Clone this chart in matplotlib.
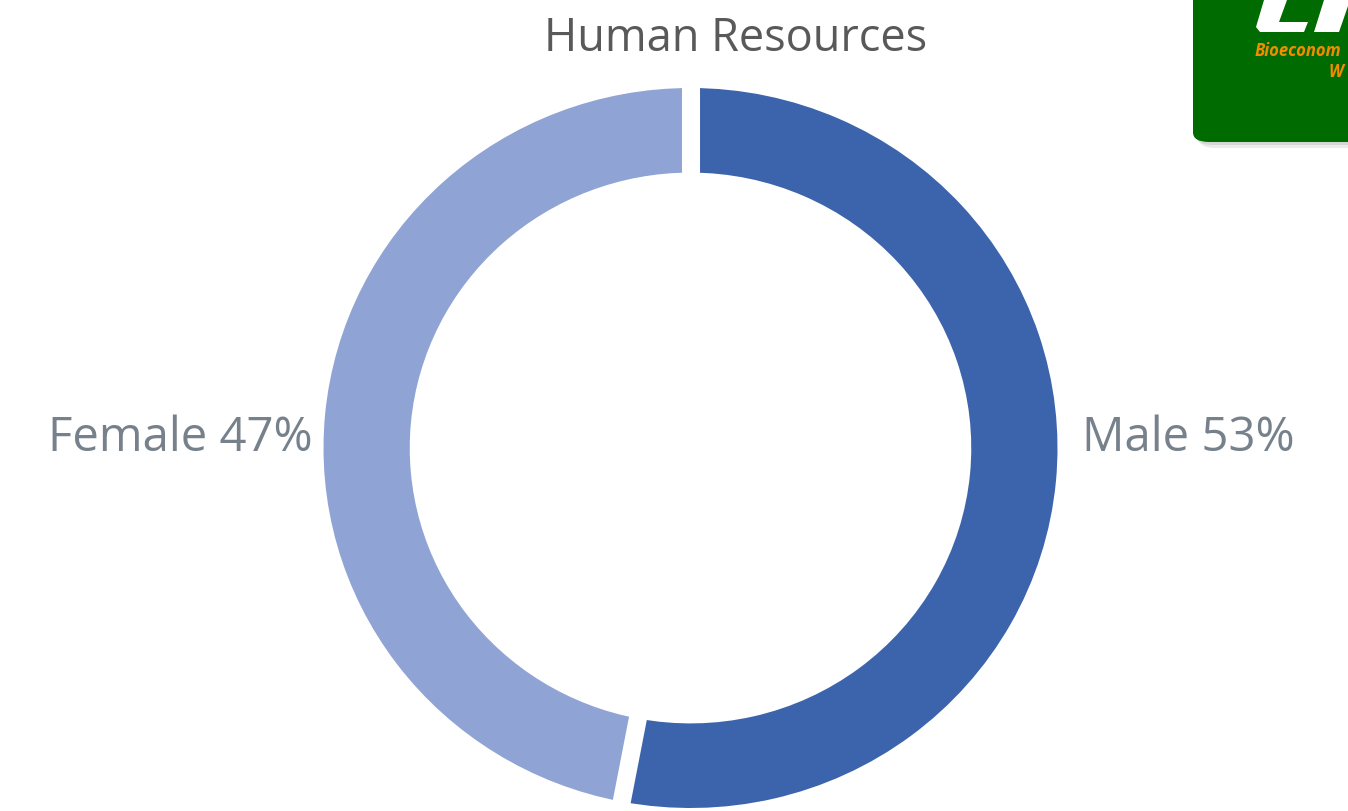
import numpy as np
import matplotlib.pyplot as plt
from matplotlib.patches import FancyBboxPatch, Polygon

# Dane
labels = ['Male', 'Female']
shares = [53, 47]
colors = ['#3C64AC', '#8FA3D4']

fig = plt.figure(figsize=(13.48, 8.11), dpi=100)
plt.rcParams['font.family'] = ['Open Sans', 'DejaVu Sans']

W, H = 1348, 811
cx, cy, rx, ry = 690.5, 448, 367, 360
ax = fig.add_axes([(cx - rx) / W, (H - cy - ry) / H, 2 * rx / W, 2 * ry / H])
ring = 0.235
ax.pie(shares, colors=colors, startangle=90, counterclock=False,
       radius=1.0, wedgeprops=dict(width=ring, linewidth=0))

# białe szczeliny między segmentami
bounds = np.cumsum([0] + shares[:-1]) / sum(shares)
for b in bounds:
    ang = np.pi / 2 - 2 * np.pi * b
    rr = np.array([1 - ring - 0.02, 1.02])
    ax.plot(rr * np.cos(ang), rr * np.sin(ang), color='white', lw=13,
            solid_capstyle='butt')
ax.set_xlim(-1, 1)
ax.set_ylim(-1, 1)
ax.set_aspect('auto')
ax.axis('off')

# etykiety
lab_col = '#76818C'
fig.text(1082 / W, 1 - 438 / H, f'{labels[0]} {shares[0]}%', ha='left', va='center',
         fontsize=34, color=lab_col)
fig.text(313 / W, 1 - 438 / H, f'{labels[1]} {shares[1]}%', ha='right', va='center',
         fontsize=34, color=lab_col)

fig.text(736 / W, 1 - 39 / H, 'Human Resources', ha='center', va='center',
         fontsize=32.5, color='#595959')

# logo w prawym górnym rogu
for dx, dy, c in [(6, 6, '#EBEBEB'), (3, 3, '#D6D6D6')]:
    sh = FancyBboxPatch(((1193 + dx) / W, 1 - (142 + dy) / H), 200 / W, 200 / H,
                        boxstyle='round,pad=0,rounding_size=0.012',
                        transform=fig.transFigure, facecolor=c,
                        edgecolor='none', zorder=4)
    fig.patches.append(sh)
box = FancyBboxPatch((1193 / W, 1 - 142 / H), 200 / W, 200 / H,
                     boxstyle='round,pad=0,rounding_size=0.012',
                     transform=fig.transFigure, facecolor='#006B00',
                     edgecolor='none', zorder=5)
fig.patches.append(box)


def px(pts):
    return [(x / W, 1 - y / H) for x, y in pts]


shape1 = px([(1264, 0), (1287, 0), (1279, 22), (1308, 22), (1304, 32),
             (1260, 32), (1256, 27)])
shape2 = px([(1324, 0), (1348, 0), (1348, 6), (1339, 32), (1314, 32)])
for s in (shape1, shape2):
    fig.patches.append(Polygon(s, closed=True, transform=fig.transFigure,
                               facecolor='white', edgecolor='none', zorder=6))
fig.text(1255 / W, 1 - 51 / H, 'Bioeconom', ha='left', va='center',
         fontsize=12, fontweight='bold', style='italic', color='#F28C00', zorder=6)
fig.text(1328 / W, 1 - 72 / H, 'W', ha='left', va='center',
         fontsize=12, fontweight='bold', style='italic', color='#F28C00', zorder=6)

fig.savefig('out.png', dpi=100)
